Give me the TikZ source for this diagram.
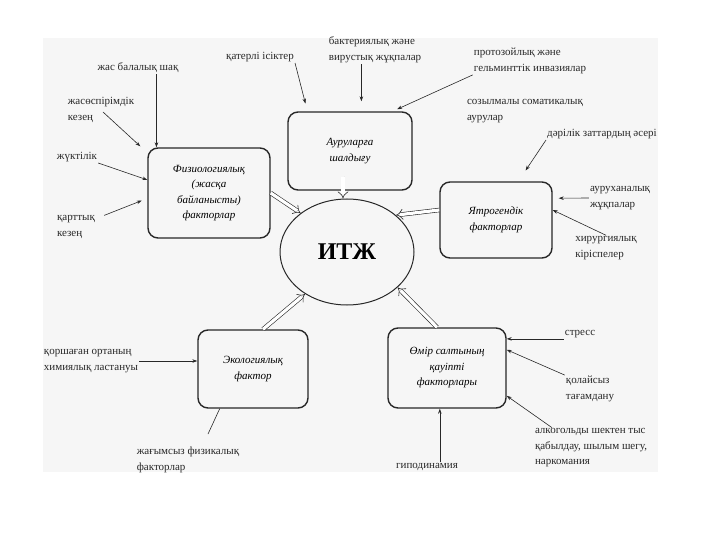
\documentclass[tikz,border=0pt]{standalone}
\usepackage{fontspec}
\setmainfont{Liberation Serif}
\usepackage{tikz}
\usetikzlibrary{arrows.meta, positioning, shapes.geometric, calc}

\definecolor{scan_bg}{RGB}{246, 246, 246}
\definecolor{ink}{RGB}{40, 40, 40}

\begin{document}
\begin{tikzpicture}[x=1pt, y=-1pt,
    box/.style={draw=ink, line width=1.4pt, rounded corners=10pt,
                font=\fontsize{11}{15.5}\selectfont\itshape, align=center},
    lbl/.style={font=\fontsize{11}{15.5}\selectfont, align=left,
                inner sep=1pt, text=ink},
    feed/.style={->, >={Stealth[length=5pt, width=3.5pt]}, ink, line width=0.6pt},
    into/.style={double=white, double distance=3.2pt, ink, line width=0.6pt,
                 -{Implies}}]
  \useasboundingbox (0,0) rectangle (720,540);
  \fill[scan_bg] (43,38) rectangle (658,472);

  % centre
  \node[draw=ink, line width=1pt, ellipse, minimum width=134pt,
        minimum height=106pt, font=\fontsize{24}{24}\selectfont\bfseries]
        (itzh) at (347,252) {ИТЖ};

  % factor boxes
  \node[box, minimum width=122pt, minimum height=90pt] (fiz) at (209,193)
        {Физиологиялық\\(жасқа\\байланысты)\\факторлар};
  \node[box, minimum width=124pt, minimum height=78pt] (aur) at (350,151)
        {Ауруларға\\шалдығу};
  \node[box, minimum width=112pt, minimum height=76pt] (yat) at (496,220)
        {Ятрогендік\\факторлар};
  \node[box, minimum width=110pt, minimum height=78pt] (eko) at (253,369)
        {Экологиялық\\фактор};
  \node[box, minimum width=118pt, minimum height=80pt] (omir) at (447,368)
        {Өмір салтының\\қауіпті\\факторлары};

  % outer labels
  \node[lbl] (t_jas)  at (138,68)  {жас балалық шақ};
  \node[lbl] (t_jas2) at (101,110) {жасөспірімдік\\кезең};
  \node[lbl] (t_zhuk) at (77,157)  {жүктілік};
  \node[lbl] (t_kart) at (76,227)  {қарттық\\кезең};
  \node[lbl] (t_kat)  at (260,57)  {қатерлі ісіктер};
  \node[lbl] (t_bakt) at (375,50)  {бактериялық және\\вирустық жұқпалар};
  \node[lbl] (t_proto) at (530,61) {протозойлық және\\гельминттік инвазиялар};
  \node[lbl] (t_soz)  at (525,111) {созылмалы соматикалық\\аурулар};
  \node[lbl] (t_dari) at (602,134) {дәрілік заттардың әсері};
  \node[lbl] (t_aurx) at (620,198) {ауруханалық\\жұқпалар};
  \node[lbl] (t_hir)  at (606,248) {хирургиялық\\кіріспелер};
  \node[lbl] (t_kor)  at (91,361)  {қоршаған ортаның\\химиялық ластануы};
  \node[lbl] (t_zhag) at (188,460) {жағымсыз физикалық\\факторлар};
  \node[lbl] (t_str)  at (580,334) {стресс};
  \node[lbl] (t_kol)  at (590,389) {қолайсыз\\тағамдану};
  \node[lbl] (t_alk)  at (591,448) {алкогольды шектен тыс\\қабылдау, шылым шегу,\\наркомания};
  \node[lbl] (t_gip)  at (427,467) {гиподинамия};

  % boxes into ИТЖ
  \draw[into] ($(aur.south)+(-7,-14)$) -- (itzh.north -| {$(aur.south)+(-7,0)$});
  \draw[into] (fiz.east) -- (itzh.140);
  \draw[into] (yat.170) -- (itzh.37);
  \draw[into] ($(eko.north)+(10,0)$) -- (itzh.225);
  \draw[into] ($(omir.north)+(-10,0)$) -- (itzh.-35);

  % labels into boxes
  \draw[feed] (t_jas.south -| fiz.139) -- (fiz.139);
  \draw[feed] ($(t_jas2.center)+(2,2)$) -- ($(fiz.north west)+(-7,-1)$);
  \draw[feed] (t_zhuk.south east) -- (fiz.168);
  \draw[feed, shorten >=6pt] ($(t_kart.north east)+(8,1)$) -- (fiz.185);
  \draw[feed, shorten >=8pt] (t_kat.south east) -- (aur.137);
  \draw[feed, shorten >=10pt] (t_bakt.south -| aur.74) -- (aur.74);
  \draw[feed, shorten >=5pt] (t_proto.south west) -- (aur.43);
  \draw[feed, shorten >=13pt] (t_dari.south west) -- (yat.60);
  \draw[feed, shorten >=6pt] (t_aurx.west) -- (yat.21);
  \draw[feed] (t_hir.north) -- (yat.10);
  \draw[feed] (t_kor.east) -- (t_kor.east -| eko.west);
  \draw[ink, line width=0.6pt] ($(t_zhag.north)+(20,-12)$) -- (eko.230);
  \draw[feed] (t_str.west |- omir.26) -- (omir.26);
  \draw[feed] (t_kol.north west) -- (omir.17);
  \draw[feed] ($(t_alk.north west)+(18,0)$) -- (omir.-25);
  \draw[feed] (t_gip.north -| omir.260) -- (omir.260);
\end{tikzpicture}
\end{document}
